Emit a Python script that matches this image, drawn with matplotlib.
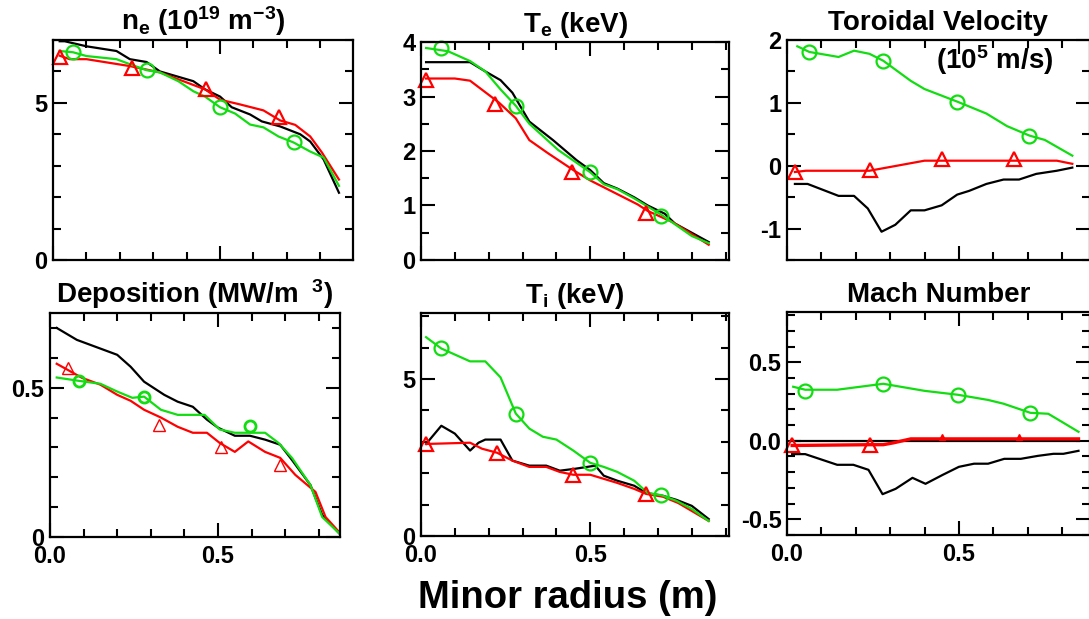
import numpy as np
import matplotlib
matplotlib.use('Agg')
import matplotlib.pyplot as plt
from matplotlib.ticker import FixedLocator, MultipleLocator, NullFormatter

plt.rcParams['font.family'] = ['Liberation Sans', 'DejaVu Sans']
plt.rcParams['font.weight'] = 'bold'
plt.rcParams['mathtext.fontset'] = 'custom'
plt.rcParams['mathtext.rm'] = 'Liberation Sans:bold'
plt.rcParams['mathtext.it'] = 'Liberation Sans:bold'
plt.rcParams['mathtext.bf'] = 'Liberation Sans:bold'
plt.rcParams['axes.unicode_minus'] = False
plt.rcParams['axes.linewidth'] = 1.6

RED = '#ff0000'
GREEN = '#11dd11'
BLACK = '#000000'

# --- n_e (10^19 m^-3) ---
ne_black_x = [0.02, 0.035, 0.10, 0.19, 0.23, 0.28, 0.32, 0.42, 0.455, 0.50, 0.535, 0.59, 0.625, 0.68, 0.74, 0.77, 0.81, 0.856]
ne_black_y = [6.96, 6.96, 6.80, 6.65, 6.39, 6.30, 6.00, 5.69, 5.43, 5.20, 4.86, 4.63, 4.41, 4.25, 4.00, 3.77, 3.20, 2.14]
ne_red_x = [0.02, 0.05, 0.10, 0.23, 0.32, 0.455, 0.50, 0.56, 0.63, 0.68, 0.725, 0.77, 0.805, 0.856]
ne_red_y = [6.50, 6.39, 6.39, 6.17, 5.97, 5.43, 5.10, 4.95, 4.76, 4.44, 4.30, 3.93, 3.42, 2.56]
ne_red_mx = [0.02, 0.236, 0.458, 0.677]
ne_red_my = [6.45, 6.10, 5.45, 4.55]
ne_green_x = [0.02, 0.06, 0.10, 0.19, 0.23, 0.28, 0.32, 0.375, 0.42, 0.455, 0.50, 0.545, 0.59, 0.63, 0.675, 0.72, 0.77, 0.81, 0.856]
ne_green_y = [6.65, 6.61, 6.49, 6.39, 6.23, 6.04, 5.97, 5.69, 5.37, 5.20, 4.86, 4.66, 4.31, 4.22, 3.93, 3.74, 3.45, 3.26, 2.36]
ne_green_mx = [0.06, 0.28, 0.50, 0.72]
ne_green_my = [6.61, 6.04, 4.86, 3.74]

# --- T_e (keV) ---
te_black_x = [0.015, 0.145, 0.19, 0.235, 0.27, 0.32, 0.39, 0.46, 0.50, 0.54, 0.58, 0.63, 0.67, 0.72, 0.75, 0.80, 0.85]
te_black_y = [3.63, 3.63, 3.46, 3.30, 3.07, 2.54, 2.20, 1.83, 1.65, 1.41, 1.31, 1.15, 1.00, 0.85, 0.67, 0.50, 0.33]
te_green_x = [0.015, 0.08, 0.145, 0.19, 0.235, 0.28, 0.32, 0.405, 0.50, 0.54, 0.58, 0.63, 0.71, 0.80, 0.85]
te_green_y = [3.89, 3.83, 3.65, 3.46, 3.13, 2.83, 2.50, 2.02, 1.61, 1.39, 1.30, 1.13, 0.83, 0.44, 0.31]
te_green_mx = [0.06, 0.28, 0.50, 0.71]
te_green_my = [3.89, 2.83, 1.61, 0.81]
te_red_x = [0.015, 0.10, 0.145, 0.23, 0.28, 0.32, 0.375, 0.45, 0.50, 0.57, 0.64, 0.67, 0.745, 0.85]
te_red_y = [3.33, 3.33, 3.29, 2.89, 2.60, 2.20, 1.96, 1.65, 1.46, 1.24, 1.02, 0.90, 0.69, 0.28]
te_red_mx = [0.015, 0.22, 0.447, 0.665]
te_red_my = [3.30, 2.87, 1.61, 0.87]

# --- Toroidal velocity (10^5 m/s) ---
vt_green_x = [0.03, 0.065, 0.15, 0.195, 0.24, 0.28, 0.36, 0.40, 0.495, 0.58, 0.64, 0.705, 0.75, 0.83]
vt_green_y = [1.90, 1.81, 1.73, 1.83, 1.78, 1.67, 1.35, 1.22, 1.02, 0.83, 0.63, 0.48, 0.41, 0.16]
vt_green_mx = [0.065, 0.28, 0.495, 0.705]
vt_green_my = [1.81, 1.67, 1.02, 0.48]
vt_red_x = [0.023, 0.055, 0.24, 0.40, 0.785, 0.83]
vt_red_y = [-0.10, -0.08, -0.08, 0.08, 0.08, 0.03]
vt_red_mx = [0.023, 0.24, 0.45, 0.66]
vt_red_my = [-0.10, -0.07, 0.10, 0.10]
vt_black_x = [0.023, 0.06, 0.15, 0.195, 0.235, 0.275, 0.315, 0.36, 0.40, 0.45, 0.495, 0.53, 0.58, 0.63, 0.675, 0.725, 0.785, 0.83]
vt_black_y = [-0.29, -0.29, -0.48, -0.48, -0.68, -1.05, -0.94, -0.71, -0.71, -0.63, -0.46, -0.40, -0.29, -0.22, -0.22, -0.13, -0.08, -0.03]

# --- Deposition (MW/m^3) ---
dep_black_x = [0.02, 0.08, 0.20, 0.24, 0.28, 0.34, 0.38, 0.425, 0.467, 0.50, 0.55, 0.595, 0.64, 0.685, 0.72, 0.775, 0.81, 0.86]
dep_black_y = [0.70, 0.66, 0.61, 0.57, 0.52, 0.476, 0.453, 0.436, 0.393, 0.366, 0.339, 0.339, 0.326, 0.309, 0.258, 0.174, 0.074, 0.013]
dep_red_x = [0.02, 0.095, 0.15, 0.20, 0.24, 0.28, 0.33, 0.38, 0.425, 0.467, 0.505, 0.55, 0.59, 0.64, 0.685, 0.73, 0.79, 0.82, 0.86]
dep_red_y = [0.58, 0.533, 0.51, 0.476, 0.456, 0.426, 0.40, 0.369, 0.349, 0.349, 0.315, 0.285, 0.32, 0.285, 0.265, 0.208, 0.151, 0.067, 0.017]
dep_red_mx = [0.053, 0.324, 0.508, 0.685]
dep_red_my = [0.567, 0.376, 0.302, 0.242]
dep_green_x = [0.02, 0.085, 0.15, 0.20, 0.245, 0.28, 0.33, 0.38, 0.46, 0.505, 0.55, 0.595, 0.64, 0.68, 0.72, 0.775, 0.81, 0.86]
dep_green_y = [0.534, 0.523, 0.513, 0.487, 0.466, 0.47, 0.426, 0.409, 0.409, 0.36, 0.349, 0.349, 0.349, 0.315, 0.265, 0.174, 0.067, 0.013]
dep_green_mx = [0.085, 0.28, 0.595]
dep_green_my = [0.523, 0.47, 0.37]

# --- T_i (keV) ---
ti_green_x = [0.015, 0.06, 0.145, 0.19, 0.235, 0.28, 0.32, 0.36, 0.40, 0.45, 0.50, 0.54, 0.58, 0.63, 0.67, 0.71, 0.755, 0.80, 0.85]
ti_green_y = [6.33, 5.97, 5.56, 5.56, 5.05, 3.90, 3.42, 3.16, 3.07, 2.72, 2.33, 2.20, 2.04, 1.76, 1.37, 1.30, 1.12, 0.86, 0.48]
ti_green_mx = [0.06, 0.28, 0.50, 0.71]
ti_green_my = [5.97, 3.90, 2.33, 1.30]
ti_black_x = [0.015, 0.06, 0.10, 0.145, 0.17, 0.19, 0.235, 0.27, 0.32, 0.37, 0.41, 0.455, 0.515, 0.54, 0.58, 0.63, 0.665, 0.715, 0.755, 0.80, 0.85]
ti_black_y = [2.93, 3.51, 3.26, 2.72, 2.97, 3.07, 3.07, 2.40, 2.24, 2.24, 2.08, 2.14, 2.24, 1.92, 1.76, 1.60, 1.37, 1.28, 1.15, 0.96, 0.54]
ti_red_x = [0.015, 0.145, 0.18, 0.225, 0.27, 0.32, 0.37, 0.41, 0.45, 0.50, 0.54, 0.58, 0.63, 0.665, 0.715, 0.76, 0.85]
ti_red_y = [2.93, 2.97, 2.78, 2.65, 2.40, 2.20, 2.20, 2.04, 1.95, 1.95, 1.82, 1.69, 1.50, 1.34, 1.25, 1.05, 0.48]
ti_red_mx = [0.015, 0.225, 0.45, 0.665]
ti_red_my = [2.93, 2.65, 1.95, 1.34]

# --- Mach number ---
mach_green_x = [0.018, 0.053, 0.146, 0.28, 0.40, 0.497, 0.585, 0.63, 0.708, 0.76, 0.80, 0.848]
mach_green_y = [0.344, 0.325, 0.325, 0.363, 0.318, 0.293, 0.26, 0.236, 0.178, 0.172, 0.12, 0.057]
mach_green_mx = [0.053, 0.28, 0.497, 0.708]
mach_green_my = [0.318, 0.363, 0.293, 0.178]
mach_zero_x = [0.015, 0.848]
mach_zero_y = [0.0, 0.0]
mach_red_x = [0.015, 0.24, 0.28, 0.31, 0.36, 0.848]
mach_red_y = [-0.03, -0.025, -0.025, -0.013, 0.012, 0.012]
mach_red_mx = [0.015, 0.24]
mach_red_my = [-0.03, -0.025]
mach_red_fx = [0.45, 0.675]
mach_red_fy = [0.025, 0.025]
mach_black_x = [0.015, 0.053, 0.146, 0.193, 0.237, 0.278, 0.316, 0.365, 0.403, 0.453, 0.50, 0.544, 0.585, 0.632, 0.68, 0.73, 0.775, 0.804, 0.848]
mach_black_y = [-0.085, -0.085, -0.153, -0.153, -0.185, -0.34, -0.306, -0.236, -0.274, -0.217, -0.166, -0.146, -0.146, -0.115, -0.115, -0.096, -0.083, -0.083, -0.064]

W, H = 1089, 619
fig = plt.figure(figsize=(W / 100, H / 100), dpi=100)


def panel(left, right, top, bottom):
    return fig.add_axes([left / W, 1 - bottom / H, (right - left) / W, (bottom - top) / H])


def style(ax, xmax, ylim, yticks, ylabels, yminor, title, xlabels=False):
    ax.set_xlim(0, xmax)
    ax.set_ylim(*ylim)
    ax.xaxis.set_major_locator(FixedLocator([0.0, 0.5]))
    ax.xaxis.set_minor_locator(MultipleLocator(0.1))
    ax.yaxis.set_major_locator(FixedLocator(yticks))
    ax.yaxis.set_minor_locator(MultipleLocator(yminor))
    ax.set_yticklabels(ylabels)
    if xlabels:
        ax.set_xticklabels(['0.0', '0.5'])
    else:
        ax.xaxis.set_major_formatter(NullFormatter())
    ax.tick_params(which='both', direction='in', top=True, right=True,
                   width=1.5, labelsize=17)
    ax.tick_params(which='major', length=10, pad=4)
    ax.tick_params(axis='x', which='major', pad=6)
    ax.tick_params(which='minor', length=6)
    ax.set_title(title, fontsize=20, fontweight='bold', pad=7)


def lines(ax, xs, ys, color):
    ax.plot(xs, ys, color=color, lw=1.6, clip_on=False)


def tri(ax, xs, ys, ms=10, mew=1.6):
    ax.plot(xs, ys, ls='none', marker='^', ms=ms, mfc='none', mec=RED, mew=mew, clip_on=False)


def circ(ax, xs, ys, ms=10, mew=1.6):
    ax.plot(xs, ys, ls='none', marker='o', ms=ms, mfc='none', mec=GREEN, mew=mew, clip_on=False)


# n_e
ax = panel(53, 353, 40, 260)
lines(ax, ne_black_x, ne_black_y, BLACK)
lines(ax, ne_red_x, ne_red_y, RED)
lines(ax, ne_green_x, ne_green_y, GREEN)
tri(ax, ne_red_mx, ne_red_my)
circ(ax, ne_green_mx, ne_green_my)
style(ax, 0.898, (0, 7), [0, 5], ['0', '5'], 1, r'n$_{e}$ (10$^{19}$ m$^{-3}$)')

# T_e
ax = panel(421, 729, 42, 260)
lines(ax, te_black_x, te_black_y, BLACK)
lines(ax, te_red_x, te_red_y, RED)
lines(ax, te_green_x, te_green_y, GREEN)
tri(ax, te_red_mx, te_red_my)
circ(ax, te_green_mx, te_green_my)
style(ax, 0.91, (0, 4), [0, 1, 2, 3, 4], ['0', '1', '2', '3', '4'], 0.5, r'T$_{e}$ (keV)')

# Toroidal velocity
ax = panel(787, 1089.5, 40, 260)
lines(ax, vt_black_x, vt_black_y, BLACK)
lines(ax, vt_red_x, vt_red_y, RED)
lines(ax, vt_green_x, vt_green_y, GREEN)
tri(ax, vt_red_mx, vt_red_my)
circ(ax, vt_green_mx, vt_green_my)
style(ax, 0.88, (-1.5, 2), [-1, 0, 1, 2], ['-1', '0', '1', '2'], 0.5, 'Toroidal Velocity')
ax.text(995 / W, 1 - 60 / H, r'(10$^{5}$ m/s)', transform=fig.transFigure,
        ha='center', va='center', fontsize=20, fontweight='bold')

# Deposition
ax = panel(50, 340, 313, 537)
lines(ax, dep_black_x, dep_black_y, BLACK)
lines(ax, dep_red_x, dep_red_y, RED)
lines(ax, dep_green_x, dep_green_y, GREEN)
tri(ax, dep_red_mx, dep_red_my, ms=8, mew=1.0)
circ(ax, dep_green_mx, dep_green_my, ms=8, mew=2.0)
style(ax, 0.863, (0, 0.75), [0, 0.5], ['0', '0.5'], 0.1,
      r'Deposition (MW/m$\;\;{}^{3}$)', xlabels=True)

# T_i
ax = panel(421, 729, 313, 536)
lines(ax, ti_black_x, ti_black_y, BLACK)
lines(ax, ti_red_x, ti_red_y, RED)
lines(ax, ti_green_x, ti_green_y, GREEN)
tri(ax, ti_red_mx, ti_red_my)
circ(ax, ti_green_mx, ti_green_my)
style(ax, 0.91, (0, 7.1), [0, 5], ['0', '5'], 1, r'T$_{i}$ (keV)', xlabels=True)

# Mach number
ax = panel(787, 1089.5, 312, 535)
lines(ax, mach_black_x, mach_black_y, BLACK)
lines(ax, mach_zero_x, mach_zero_y, BLACK)
ax.plot(mach_red_x, mach_red_y, color=RED, lw=2.4)
lines(ax, mach_green_x, mach_green_y, GREEN)
tri(ax, mach_red_mx, mach_red_my)
ax.plot(mach_red_fx, mach_red_fy, ls='none', marker='^', ms=5, color=RED)
circ(ax, mach_green_mx, mach_green_my)
style(ax, 0.88, (-0.6, 0.82), [-0.5, 0.0, 0.5], ['-0.5', '0.0', '0.5'], 0.1,
      'Mach Number', xlabels=True)

fig.text(568 / W, 1 - 608 / H, 'Minor radius (m)', ha='center', va='baseline',
         fontsize=27.5, fontweight='bold')

plt.savefig('out.png', dpi=100)
